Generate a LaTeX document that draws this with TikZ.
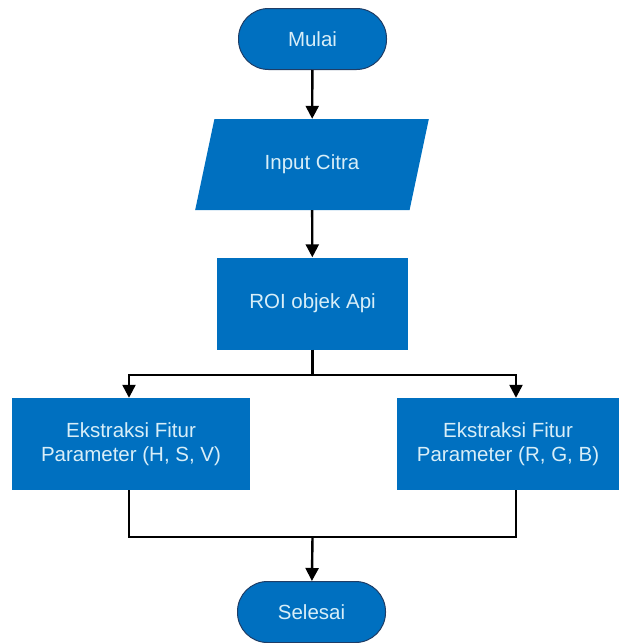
\documentclass[tikz,border=0pt]{standalone}
\usepackage{fontspec}
\setmainfont{Liberation Sans}
\usetikzlibrary{shapes.geometric,arrows.meta}
\definecolor{fcBlue}{HTML}{0070C0}
\definecolor{fcEdge}{HTML}{1F3D66}
\definecolor{fcText}{HTML}{D8EEF8}
\begin{document}
\begin{tikzpicture}[
  x=1pt, y=-1pt, font=\fontsize{20.5}{24}\selectfont,
  box/.style    ={fill=fcBlue, text=fcText, align=center, inner sep=0pt},
  term/.style   ={box, draw=fcEdge, line width=1pt, rounded corners=30pt,
                  minimum width=148pt, minimum height=61pt},
  io/.style     ={box, trapezium, trapezium left angle=64, trapezium right angle=116,
                  trapezium stretches=true, minimum width=234pt, minimum height=91pt},
  proc/.style   ={box, rectangle, minimum height=92pt},
  link/.style   ={line width=2.4pt, black},
  arr/.style    ={link, -{Triangle[length=13pt,width=13pt]}}]
  \useasboundingbox (0,0) rectangle (622,643);
  \node[term] (mulai) at (312.5,39) {Mulai};
  \node[io] (input) at (312,164.5) {Input Citra};
  \node[proc, minimum width=191pt] (roi) at (312.5,303.5) {ROI objek Api};
  \node[proc, minimum width=238pt] (hsv) at (131,444) {Ekstraksi Fitur\\Parameter (H, S, V)};
  \node[proc, minimum width=222pt] (rgb) at (508,444) {Ekstraksi Fitur\\Parameter (R, G, B)};
  \node[term] (selesai) at (311.5,612) {Selesai};
  \coordinate (split) at (312.5,375);
  \coordinate (join) at (312.5,537);
  \draw[arr] (mulai) -- (input);
  \draw[arr] (input) -- (roi);
  \draw[link] (roi) -- (split);
  \draw[arr] (split) -| ([xshift=-2pt]hsv.north);
  \draw[arr] (split) -| ([xshift=8pt]rgb.north);
  \draw[link] ([xshift=-2pt]hsv.south) |- (join);
  \draw[link] ([xshift=8pt]rgb.south) |- (join);
  \draw[arr] (join) -- (selesai);
\end{tikzpicture}
\end{document}
